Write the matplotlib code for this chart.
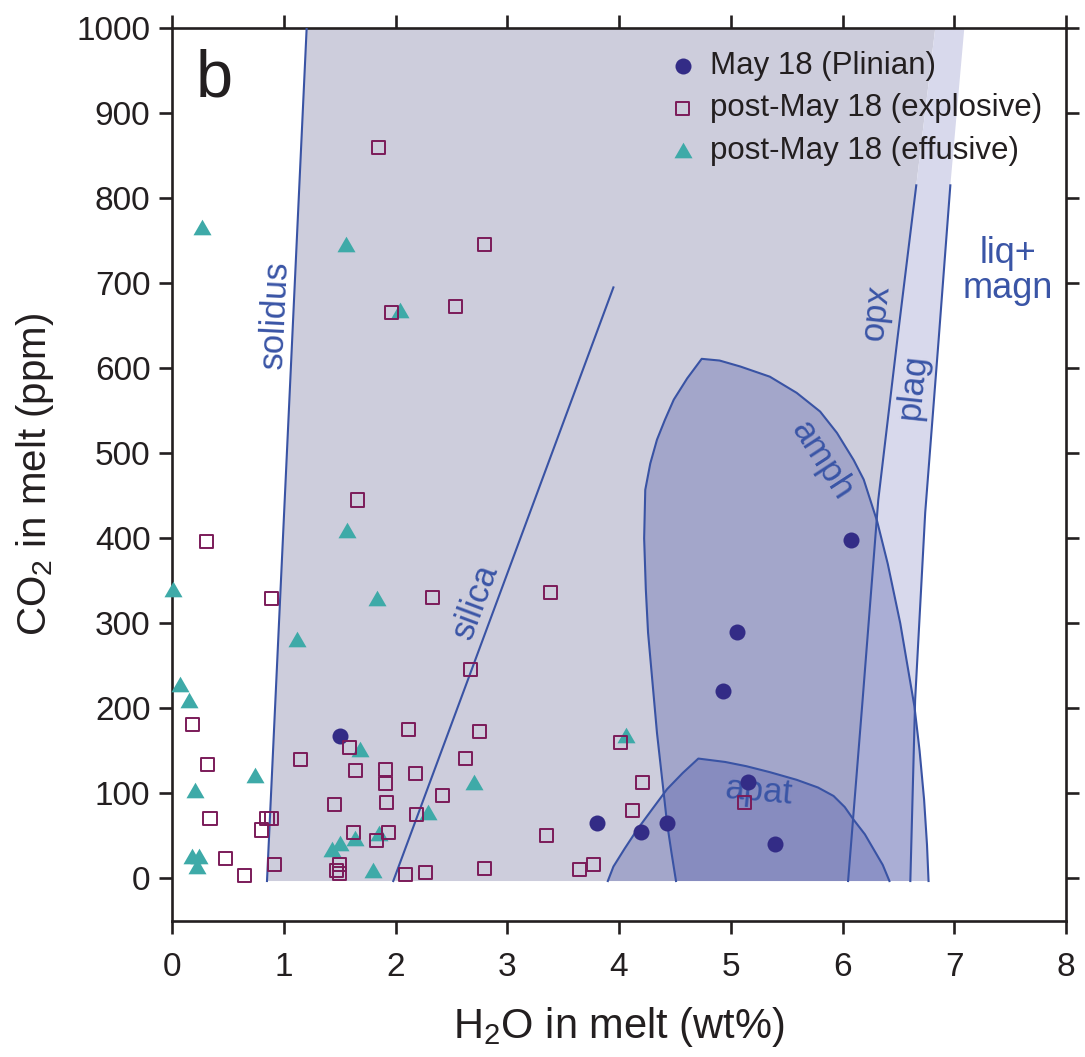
import matplotlib
matplotlib.use('Agg')
import matplotlib.pyplot as plt

plt.rcParams['font.family'] = ['Liberation Sans', 'DejaVu Sans']
plt.rcParams['mathtext.fontset'] = 'custom'
plt.rcParams['mathtext.rm'] = 'Liberation Sans'
plt.rcParams['mathtext.it'] = 'Liberation Sans:italic'
plt.rcParams['mathtext.default'] = 'regular'

# ---------------- data ----------------
plinian_h2o = [1.50, 6.08, 5.06, 4.93, 5.15, 3.80, 4.20, 4.43, 5.40]
plinian_co2 = [168, 398, 290, 220, 114, 65, 55, 65, 40]

explosive_h2o = [1.85, 2.80, 2.54, 1.96, 1.66, 0.31, 0.89, 2.33, 3.39, 2.67,
                 0.18, 2.12, 2.75, 1.59, 1.15, 2.63, 0.32, 1.64, 1.91, 1.91,
                 2.18, 4.01, 4.21, 5.12, 2.42, 1.45, 1.92, 4.12, 0.34, 0.85,
                 0.89, 0.80, 2.19, 1.62, 1.94, 1.83, 3.35, 0.48, 0.65, 0.92,
                 1.50, 1.47, 1.50, 2.09, 2.27, 2.80, 3.77, 3.65]
explosive_co2 = [859, 745, 673, 665, 445, 396, 329, 330, 336, 246,
                 181, 175, 173, 154, 140, 141, 134, 127, 128, 112,
                 123, 160, 113, 89, 97, 87, 89, 80, 71, 71,
                 71, 57, 75, 54, 54, 45, 50, 23, 4, 16,
                 16, 9, 6, 5, 7, 12, 17, 10]

effusive_h2o = [0.27, 1.555, 2.04, 1.565, 0.01, 1.83, 1.12, 0.07, 0.155, 1.68,
                4.06, 0.74, 2.70, 0.21, 2.29, 1.64, 1.85, 1.43, 1.505, 1.80,
                0.18, 0.245, 0.225]
effusive_co2 = [766, 746, 668, 410, 340, 330, 281, 229, 210, 152,
                169, 122, 114, 104, 78, 48, 54, 35, 42, 10,
                27, 26, 15]

# phase boundaries (H2O wt%, CO2 ppm)
solidus_h2o = [0.85, 1.205]
solidus_co2 = [-3, 1000]
silica_h2o = [1.98, 3.95]
silica_co2 = [-3, 695]
opx_h2o = [6.05, 6.18, 6.32, 6.49, 6.66]
opx_co2 = [-3, 210, 445, 633, 815]
opx_top = (6.83, 1000)
plag_h2o = [6.607, 6.65, 6.74, 6.86, 6.965]
plag_co2 = [-3, 210, 430, 633, 815]
plag_top = (7.09, 1000)
amph_h2o = [4.51, 4.47, 4.43, 4.385, 4.34, 4.30, 4.26, 4.24, 4.225, 4.235,
            4.28, 4.34, 4.41, 4.49, 4.61, 4.74, 4.90, 5.085, 5.35, 5.59,
            5.80, 5.95, 6.10, 6.19, 6.31, 6.405, 6.517, 6.644, 6.69, 6.73,
            6.756, 6.77]
amph_co2 = [-3, 30, 65, 118, 171, 230, 289, 340, 400, 457,
            488, 516, 539, 563, 588, 611, 609, 602, 590, 571,
            549, 524, 492, 469, 420, 370, 300, 202, 150, 93,
            40, -3]
apat_h2o = [3.90, 3.95, 4.05, 4.16, 4.30, 4.43, 4.57, 4.71, 4.95, 5.14,
            5.35, 5.59, 5.78, 5.92, 6.02, 6.10, 6.20, 6.28, 6.36, 6.42]
apat_co2 = [-3, 14, 35, 57, 82, 105, 124, 141, 137, 132,
            125, 116, 107, 97, 84, 69, 52, 34, 16, -3]

x_ticks = list(range(0, 9))
y_ticks = list(range(0, 1001, 100))

# ---------------- styles ----------------
line_col = '#3953a4'
txt_col = '#3a55a6'
ink = '#231f20'
overlay = (85/255, 94/255, 171/255, 0.35)

fig = plt.figure(figsize=(10.85, 10.57), dpi=100)
ax = fig.add_axes([172/1085, 1-921/1057, (1066-172)/1085, (921-28)/1057])
ax.set_xlim(0, 8)
ax.set_ylim(-50, 1000)

# grey field between solidus and opx boundary
gx = solidus_h2o + [opx_top[0]] + opx_h2o[::-1]
gy = solidus_co2 + [opx_top[1]] + opx_co2[::-1]
ax.fill(gx, gy, color='#cdcddc', lw=0, zorder=1)
# light strip between opx and plag boundaries
sx = opx_h2o + [opx_top[0], plag_top[0]] + plag_h2o[::-1]
sy = opx_co2 + [opx_top[1], plag_top[1]] + plag_co2[::-1]
ax.fill(sx, sy, color='#d8d9ec', lw=0, zorder=1)
# amph and apat fields
ax.fill(amph_h2o, amph_co2, color=overlay, lw=0, zorder=2)
ax.fill(apat_h2o, apat_co2, color=overlay, lw=0, zorder=2)

lw = 1.5
for xs, ys in [(solidus_h2o, solidus_co2), (silica_h2o, silica_co2),
               (opx_h2o, opx_co2), (plag_h2o, plag_co2),
               (amph_h2o, amph_co2), (apat_h2o, apat_co2)]:
    ax.plot(xs, ys, color=line_col, lw=lw, zorder=3, solid_joinstyle='round')

# field labels
fs_lab = 25
ax.text(0.92, 663, 'solidus', rotation=87.3, color=txt_col, fontsize=fs_lab,
        ha='center', va='center', zorder=4)
ax.text(2.72, 326, 'silica', rotation=69.5, color=txt_col, fontsize=fs_lab,
        ha='center', va='center', zorder=4)
ax.text(6.30, 666, 'opx', rotation=84, color=txt_col, fontsize=fs_lab,
        ha='center', va='center', zorder=4)
ax.text(6.63, 579, 'plag', rotation=84, color=txt_col, fontsize=fs_lab,
        ha='center', va='center', zorder=4)
ax.text(5.82, 492, 'amph', rotation=-57, color=txt_col, fontsize=fs_lab,
        ha='center', va='center', zorder=4)
ax.text(5.25, 102, 'apat', rotation=-5, color=txt_col, fontsize=fs_lab,
        ha='center', va='center', zorder=4)
ax.text(7.48, 714, 'liq+\nmagn', color=txt_col, fontsize=26,
        ha='center', va='center', multialignment='center', linespacing=1.0,
        zorder=4)
ax.text(0.027, 0.923, 'b', transform=ax.transAxes, fontsize=48, color=ink,
        ha='left', va='baseline')

# data points
h = 0.866
tri = [(0, h/2), (-0.5, -h/2), (0.5, -h/2), (0, h/2)]
s3 = ax.scatter(effusive_h2o, effusive_co2, marker=tri, s=169, c='#3eaaa8',
                lw=0, zorder=5, clip_on=False, label='post-May 18 (effusive)')
s1 = ax.scatter(plinian_h2o, plinian_co2, marker='o', s=133, c='#332c86',
                lw=0, zorder=6, label='May 18 (Plinian)')
s2 = ax.scatter(explosive_h2o, explosive_co2, marker='s', s=88,
                facecolors='none', edgecolors='#7b1b59', lw=1.4, zorder=7,
                label='post-May 18 (explosive)')

leg = ax.legend(handles=[s1, s2, s3], loc='upper left',
                bbox_to_anchor=(0.5537, 0.974), frameon=False, fontsize=22.5,
                handlelength=1.0, handletextpad=0.37, labelspacing=0.39,
                borderpad=0, borderaxespad=0, scatterpoints=1)
for t in leg.get_texts():
    t.set_color(ink)

ax.set_xticks(x_ticks)
ax.set_yticks(y_ticks)
ax.tick_params(direction='out', length=9.5, width=1.9, top=True, right=True,
               labelsize=24, colors=ink)
ax.tick_params(axis='x', pad=13)
ax.tick_params(axis='y', pad=6)
for sp in ax.spines.values():
    sp.set_linewidth(1.9)
    sp.set_color(ink)

ax.set_xlabel('H$_2$O in melt (wt%)', fontsize=30, color=ink, labelpad=16)
ax.set_ylabel('CO$_2$ in melt (ppm)', fontsize=29, color=ink, labelpad=15)

fig.savefig('out.png', dpi=100)
